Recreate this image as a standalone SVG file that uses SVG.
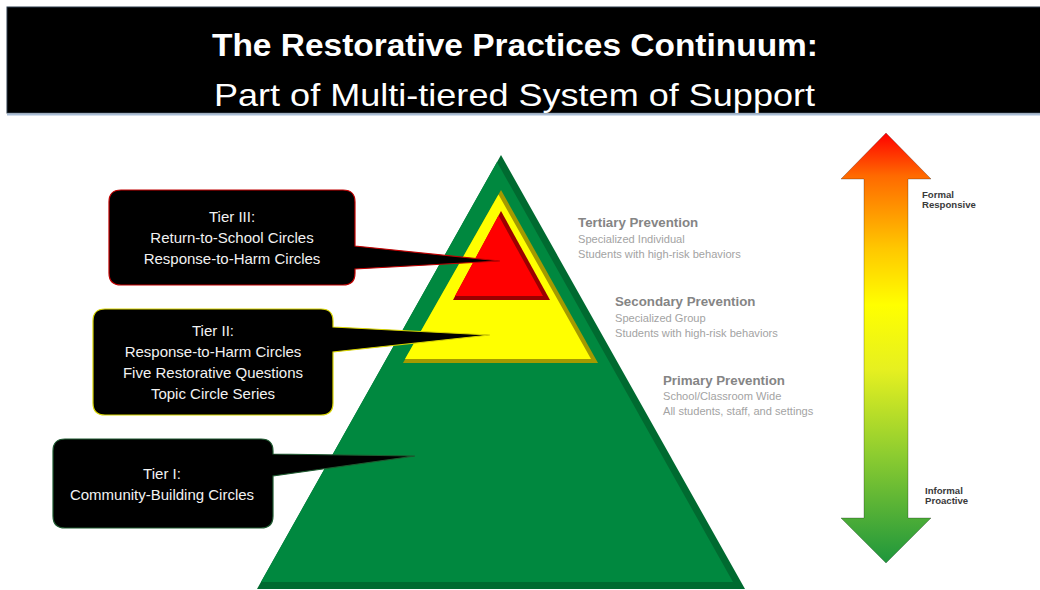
<svg xmlns="http://www.w3.org/2000/svg" width="1040" height="590" viewBox="0 0 1040 590">
  <defs>
    <linearGradient id="scaleGrad" x1="0" y1="133" x2="0" y2="563" gradientUnits="userSpaceOnUse">
      <stop offset="0" stop-color="#ff0000"/>
      <stop offset="0.1" stop-color="#ff6a00"/>
      <stop offset="0.27" stop-color="#ffc800"/>
      <stop offset="0.4" stop-color="#ffff00"/>
      <stop offset="0.55" stop-color="#e6f020"/>
      <stop offset="0.75" stop-color="#8ccc30"/>
      <stop offset="1" stop-color="#1e963c"/>
    </linearGradient>
    <style>
      .title1 { font-family: "Liberation Sans", Arial, sans-serif; font-weight: bold; font-size: 31px; fill: #ffffff; }
      .title2 { font-family: "Liberation Sans", Arial, sans-serif; font-size: 32px; fill: #ffffff; }
      .call { font-family: "Liberation Sans", Arial, sans-serif; font-size: 15px; fill: #f2f2f2; text-anchor: middle; }
      .lblHead { font-family: "Liberation Sans", Arial, sans-serif; font-weight: bold; font-size: 13.3px; fill: #858585; }
      .lblSub { font-family: "Liberation Sans", Arial, sans-serif; font-size: 11.1px; fill: #a3a3a3; }
      .scaleTxt { font-family: "Liberation Sans", Arial, sans-serif; font-weight: bold; font-size: 9.6px; fill: #3a3a3a; }
      .bubble { fill: #000000; stroke-width: 1.2; }
    </style>
  </defs>

  <rect width="1040" height="590" fill="#ffffff"/>

  <!-- Title bar -->
  <g id="title">
    <rect x="7" y="7" width="1034" height="106" fill="#000000" stroke="#2a3a4a" stroke-width="1"/>
    <line x1="7" y1="114.5" x2="1040" y2="114.5" stroke="#a9bdd6" stroke-width="2"/>
    <text class="title1" x="212" y="56" textLength="606" lengthAdjust="spacingAndGlyphs">The Restorative Practices Continuum:</text>
    <text class="title2" x="214" y="106" textLength="601" lengthAdjust="spacingAndGlyphs">Part of Multi-tiered System of Support</text>
  </g>

  <!-- Pyramid -->
  <g id="tier1-primary">
    <polygon points="501,155 257,589 745,589" fill="#006a30"/>
    <polygon points="497,162 261,582 733,582" fill="#00883f"/>
  </g>
  <g id="tier2-secondary">
    <polygon points="501,190 403,363 598,363" fill="#a39a00"/>
    <polygon points="498.5,194.5 405,359 591,359" fill="#ffff00"/>
  </g>
  <g id="tier3-tertiary">
    <polygon points="501,211 453,300 550,300" fill="#9b0000"/>
    <polygon points="498.5,215.5 455,296 543,296" fill="#ff0000"/>
  </g>

  <!-- Callouts -->
  <g id="callout-tier3">
    <path class="bubble" stroke="#c00000" d="M121,190 H343 Q355,190 355,202 V246 L500,261 L355,269 V273 Q355,285 343,285 H121 Q109,285 109,273 V202 Q109,190 121,190 Z"/>
    <text class="call" x="232" y="222">Tier III:</text>
    <text class="call" x="232" y="243">Return-to-School Circles</text>
    <text class="call" x="232" y="264">Response-to-Harm Circles</text>
  </g>
  <g id="callout-tier2">
    <path class="bubble" stroke="#d8d400" d="M105,309 H321 Q333,309 333,321 V327 L490,335 L333,352 V403 Q333,415 321,415 H105 Q93,415 93,403 V321 Q93,309 105,309 Z"/>
    <text class="call" x="213" y="336">Tier II:</text>
    <text class="call" x="213" y="357">Response-to-Harm Circles</text>
    <text class="call" x="213" y="378">Five Restorative Questions</text>
    <text class="call" x="213" y="399">Topic Circle Series</text>
  </g>
  <g id="callout-tier1">
    <path class="bubble" stroke="#1e5a30" d="M65,439 H261 Q273,439 273,451 V454 L415,456 L273,476 V516 Q273,528 261,528 H65 Q53,528 53,516 V451 Q53,439 65,439 Z"/>
    <text class="call" x="162" y="479">Tier I:</text>
    <text class="call" x="162" y="500">Community-Building Circles</text>
  </g>

  <!-- Right-side labels -->
  <g id="label-tertiary">
    <text class="lblHead" x="578" y="227">Tertiary Prevention</text>
    <text class="lblSub" x="578" y="243">Specialized Individual</text>
    <text class="lblSub" x="578" y="258">Students with high-risk behaviors</text>
  </g>
  <g id="label-secondary">
    <text class="lblHead" x="615" y="306">Secondary Prevention</text>
    <text class="lblSub" x="615" y="322">Specialized Group</text>
    <text class="lblSub" x="615" y="337">Students with high-risk behaviors</text>
  </g>
  <g id="label-primary">
    <text class="lblHead" x="663" y="385">Primary Prevention</text>
    <text class="lblSub" x="663" y="400">School/Classroom Wide</text>
    <text class="lblSub" x="663" y="415">All students, staff, and settings</text>
  </g>

  <!-- Continuum arrow -->
  <g id="scale-arrow">
    <path d="M886,133 L931,179 L908,179 L908,518 L931,518 L886,563 L841,518 L864,518 L864,179 L841,179 Z" fill="url(#scaleGrad)" stroke="#000000" stroke-opacity="0.25" stroke-width="1"/>
  </g>
  <g id="scale-labels">
    <text class="scaleTxt" x="922" y="198">Formal</text>
    <text class="scaleTxt" x="922" y="208">Responsive</text>
    <text class="scaleTxt" x="925" y="494">Informal</text>
    <text class="scaleTxt" x="925" y="504">Proactive</text>
  </g>
</svg>
